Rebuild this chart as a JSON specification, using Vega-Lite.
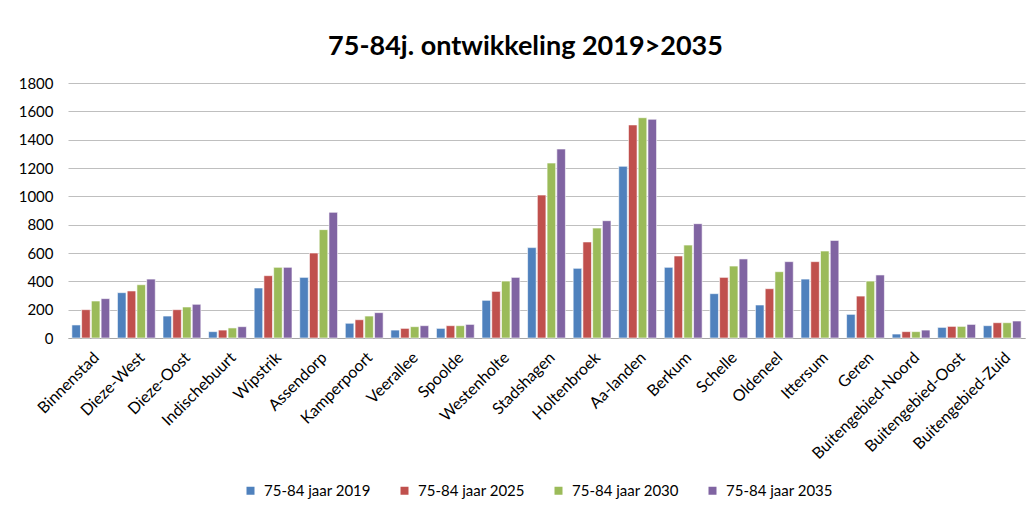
{
  "$schema": "https://vega.github.io/schema/vega-lite/v6.json",
  "autosize": {"type": "none"},
  "width": 957,
  "height": 255,
  "padding": {"left": 68, "top": 83, "right": 8, "bottom": 174},
  "background": "white",
  "title": {
    "text": "75-84j. ontwikkeling 2019>2035",
    "font": "Lato",
    "fontSize": 27,
    "fontWeight": "bold",
    "color": "#000000",
    "anchor": "middle",
    "dx": -21,
    "offset": 15
  },
  "datasets": {
    "rows": [
      {"wijk": "Binnenstad", "serie": "75-84 jaar 2019", "waarde": 92},
      {"wijk": "Binnenstad", "serie": "75-84 jaar 2025", "waarde": 200},
      {"wijk": "Binnenstad", "serie": "75-84 jaar 2030", "waarde": 261},
      {"wijk": "Binnenstad", "serie": "75-84 jaar 2035", "waarde": 278},
      {"wijk": "Dieze-West", "serie": "75-84 jaar 2019", "waarde": 320},
      {"wijk": "Dieze-West", "serie": "75-84 jaar 2025", "waarde": 332},
      {"wijk": "Dieze-West", "serie": "75-84 jaar 2030", "waarde": 376},
      {"wijk": "Dieze-West", "serie": "75-84 jaar 2035", "waarde": 416},
      {"wijk": "Dieze-Oost", "serie": "75-84 jaar 2019", "waarde": 155},
      {"wijk": "Dieze-Oost", "serie": "75-84 jaar 2025", "waarde": 200},
      {"wijk": "Dieze-Oost", "serie": "75-84 jaar 2030", "waarde": 219},
      {"wijk": "Dieze-Oost", "serie": "75-84 jaar 2035", "waarde": 238},
      {"wijk": "Indischebuurt", "serie": "75-84 jaar 2019", "waarde": 45},
      {"wijk": "Indischebuurt", "serie": "75-84 jaar 2025", "waarde": 56},
      {"wijk": "Indischebuurt", "serie": "75-84 jaar 2030", "waarde": 71},
      {"wijk": "Indischebuurt", "serie": "75-84 jaar 2035", "waarde": 80},
      {"wijk": "Wipstrik", "serie": "75-84 jaar 2019", "waarde": 353},
      {"wijk": "Wipstrik", "serie": "75-84 jaar 2025", "waarde": 440},
      {"wijk": "Wipstrik", "serie": "75-84 jaar 2030", "waarde": 499},
      {"wijk": "Wipstrik", "serie": "75-84 jaar 2035", "waarde": 499},
      {"wijk": "Assendorp", "serie": "75-84 jaar 2019", "waarde": 428},
      {"wijk": "Assendorp", "serie": "75-84 jaar 2025", "waarde": 600},
      {"wijk": "Assendorp", "serie": "75-84 jaar 2030", "waarde": 765},
      {"wijk": "Assendorp", "serie": "75-84 jaar 2035", "waarde": 887},
      {"wijk": "Kamperpoort", "serie": "75-84 jaar 2019", "waarde": 104},
      {"wijk": "Kamperpoort", "serie": "75-84 jaar 2025", "waarde": 129},
      {"wijk": "Kamperpoort", "serie": "75-84 jaar 2030", "waarde": 155},
      {"wijk": "Kamperpoort", "serie": "75-84 jaar 2035", "waarde": 179},
      {"wijk": "Veerallee", "serie": "75-84 jaar 2019", "waarde": 56},
      {"wijk": "Veerallee", "serie": "75-84 jaar 2025", "waarde": 68},
      {"wijk": "Veerallee", "serie": "75-84 jaar 2030", "waarde": 80},
      {"wijk": "Veerallee", "serie": "75-84 jaar 2035", "waarde": 87},
      {"wijk": "Spoolde", "serie": "75-84 jaar 2019", "waarde": 68},
      {"wijk": "Spoolde", "serie": "75-84 jaar 2025", "waarde": 87},
      {"wijk": "Spoolde", "serie": "75-84 jaar 2030", "waarde": 87},
      {"wijk": "Spoolde", "serie": "75-84 jaar 2035", "waarde": 96},
      {"wijk": "Westenholte", "serie": "75-84 jaar 2019", "waarde": 266},
      {"wijk": "Westenholte", "serie": "75-84 jaar 2025", "waarde": 329},
      {"wijk": "Westenholte", "serie": "75-84 jaar 2030", "waarde": 402},
      {"wijk": "Westenholte", "serie": "75-84 jaar 2035", "waarde": 428},
      {"wijk": "Stadshagen", "serie": "75-84 jaar 2019", "waarde": 638},
      {"wijk": "Stadshagen", "serie": "75-84 jaar 2025", "waarde": 1009},
      {"wijk": "Stadshagen", "serie": "75-84 jaar 2030", "waarde": 1235},
      {"wijk": "Stadshagen", "serie": "75-84 jaar 2035", "waarde": 1334},
      {"wijk": "Holtenbroek", "serie": "75-84 jaar 2019", "waarde": 492},
      {"wijk": "Holtenbroek", "serie": "75-84 jaar 2025", "waarde": 678},
      {"wijk": "Holtenbroek", "serie": "75-84 jaar 2030", "waarde": 776},
      {"wijk": "Holtenbroek", "serie": "75-84 jaar 2035", "waarde": 828},
      {"wijk": "Aa-landen", "serie": "75-84 jaar 2019", "waarde": 1212},
      {"wijk": "Aa-landen", "serie": "75-84 jaar 2025", "waarde": 1504},
      {"wijk": "Aa-landen", "serie": "75-84 jaar 2030", "waarde": 1555},
      {"wijk": "Aa-landen", "serie": "75-84 jaar 2035", "waarde": 1544},
      {"wijk": "Berkum", "serie": "75-84 jaar 2019", "waarde": 499},
      {"wijk": "Berkum", "serie": "75-84 jaar 2025", "waarde": 579},
      {"wijk": "Berkum", "serie": "75-84 jaar 2030", "waarde": 656},
      {"wijk": "Berkum", "serie": "75-84 jaar 2035", "waarde": 807},
      {"wijk": "Schelle", "serie": "75-84 jaar 2019", "waarde": 313},
      {"wijk": "Schelle", "serie": "75-84 jaar 2025", "waarde": 428},
      {"wijk": "Schelle", "serie": "75-84 jaar 2030", "waarde": 508},
      {"wijk": "Schelle", "serie": "75-84 jaar 2035", "waarde": 558},
      {"wijk": "Oldeneel", "serie": "75-84 jaar 2019", "waarde": 233},
      {"wijk": "Oldeneel", "serie": "75-84 jaar 2025", "waarde": 348},
      {"wijk": "Oldeneel", "serie": "75-84 jaar 2030", "waarde": 468},
      {"wijk": "Oldeneel", "serie": "75-84 jaar 2035", "waarde": 539},
      {"wijk": "Ittersum", "serie": "75-84 jaar 2019", "waarde": 416},
      {"wijk": "Ittersum", "serie": "75-84 jaar 2025", "waarde": 539},
      {"wijk": "Ittersum", "serie": "75-84 jaar 2030", "waarde": 614},
      {"wijk": "Ittersum", "serie": "75-84 jaar 2035", "waarde": 689},
      {"wijk": "Geren", "serie": "75-84 jaar 2019", "waarde": 167},
      {"wijk": "Geren", "serie": "75-84 jaar 2025", "waarde": 296},
      {"wijk": "Geren", "serie": "75-84 jaar 2030", "waarde": 402},
      {"wijk": "Geren", "serie": "75-84 jaar 2035", "waarde": 445},
      {"wijk": "Buitengebied-Noord", "serie": "75-84 jaar 2019", "waarde": 28},
      {"wijk": "Buitengebied-Noord", "serie": "75-84 jaar 2025", "waarde": 45},
      {"wijk": "Buitengebied-Noord", "serie": "75-84 jaar 2030", "waarde": 45},
      {"wijk": "Buitengebied-Noord", "serie": "75-84 jaar 2035", "waarde": 56},
      {"wijk": "Buitengebied-Oost", "serie": "75-84 jaar 2019", "waarde": 75},
      {"wijk": "Buitengebied-Oost", "serie": "75-84 jaar 2025", "waarde": 82},
      {"wijk": "Buitengebied-Oost", "serie": "75-84 jaar 2030", "waarde": 82},
      {"wijk": "Buitengebied-Oost", "serie": "75-84 jaar 2035", "waarde": 96},
      {"wijk": "Buitengebied-Zuid", "serie": "75-84 jaar 2019", "waarde": 87},
      {"wijk": "Buitengebied-Zuid", "serie": "75-84 jaar 2025", "waarde": 108},
      {"wijk": "Buitengebied-Zuid", "serie": "75-84 jaar 2030", "waarde": 108},
      {"wijk": "Buitengebied-Zuid", "serie": "75-84 jaar 2035", "waarde": 120}
    ]
  },
  "data": {"name": "rows"},
  "mark": {"type": "bar", "stroke": "white", "strokeWidth": 0.6},
  "encoding": {
    "x": {
      "field": "wijk",
      "type": "nominal",
      "sort": null,
      "scale": {"paddingInner": 0.17, "paddingOuter": 0.085},
      "axis": {
        "title": null,
        "labelAngle": -45,
        "labelFont": "Lato",
        "labelFontSize": 16,
        "labelColor": "#000000",
        "labelPadding": 11,
        "ticks": false,
        "domainColor": "#a6a6a6",
        "domainWidth": 1,
        "grid": false
      }
    },
    "xOffset": {
      "field": "serie",
      "type": "nominal",
      "scale": {"paddingInner": 0.12}
    },
    "y": {
      "field": "waarde",
      "type": "quantitative",
      "scale": {"domain": [0, 1800], "nice": false},
      "axis": {
        "title": null,
        "values": [0, 200, 400, 600, 800, 1000, 1200, 1400, 1600, 1800],
        "format": "d",
        "labelFont": "Lato",
        "labelFontSize": 15,
        "labelColor": "#000000",
        "labelPadding": 15,
        "ticks": false,
        "domain": false,
        "grid": true,
        "gridColor": "#bfbfbf",
        "gridWidth": 1
      }
    },
    "color": {
      "field": "serie",
      "type": "nominal",
      "scale": {
        "domain": ["75-84 jaar 2019", "75-84 jaar 2025", "75-84 jaar 2030", "75-84 jaar 2035"],
        "range": ["#4F81BD", "#C0504D", "#9BBB59", "#8064A2"]
      },
      "legend": {
        "title": null,
        "orient": "none",
        "direction": "horizontal",
        "legendX": 175,
        "legendY": 400,
        "symbolType": "square",
        "symbolSize": 64,
        "symbolStrokeWidth": 0,
        "labelFont": "Lato",
        "labelFontSize": 15,
        "labelColor": "#000000",
        "labelOffset": 6,
        "columnPadding": 26,
        "labelLimit": 200
      }
    }
  },
  "config": {
    "view": {"stroke": null}
  }
}
